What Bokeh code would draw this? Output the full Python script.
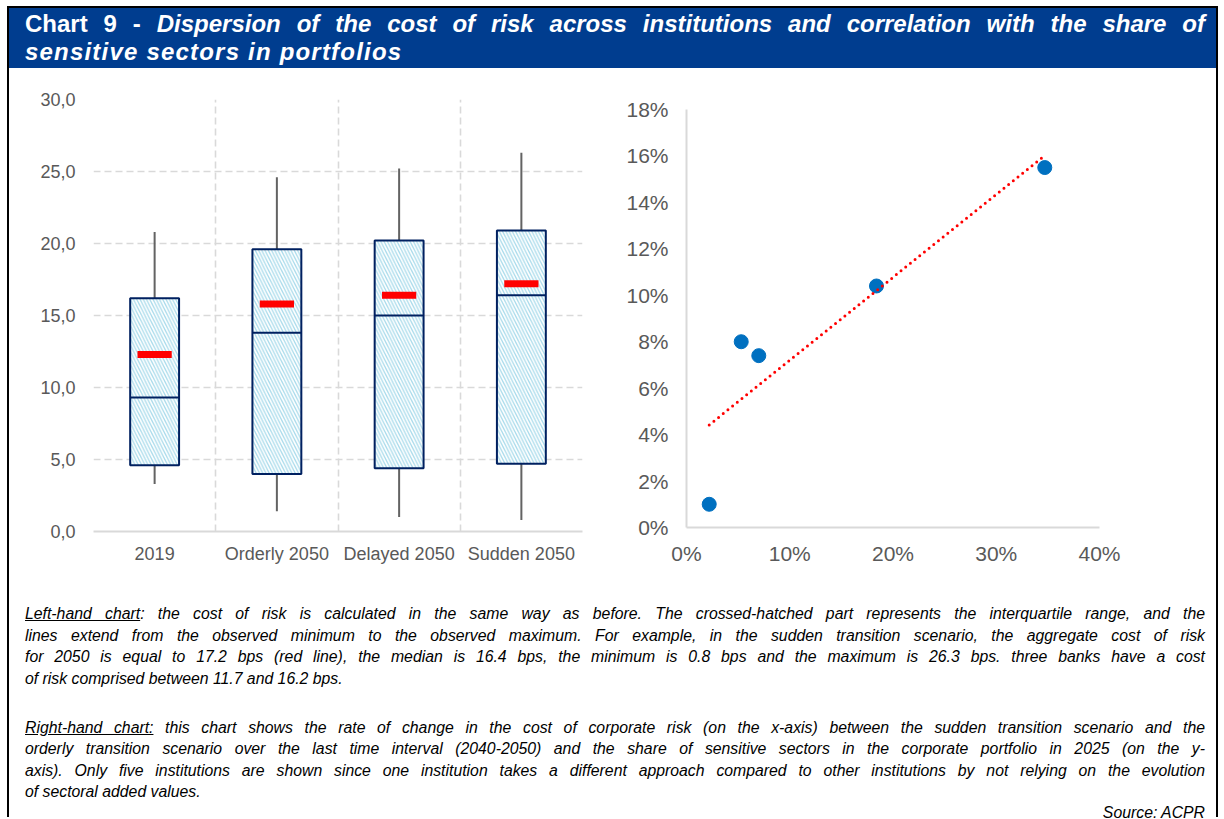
import numpy as np
from bokeh.plotting import figure
from bokeh.models import Range1d, FixedTicker, NumeralTickFormatter, Div
from bokeh.layouts import column, row
from bokeh.embed import file_html
from bokeh.resources import INLINE

# ---------------- data ----------------
categories = ["2019", "Orderly 2050", "Delayed 2050", "Sudden 2050"]
cor_min = [3.3, 1.4, 1.0, 0.8]
cor_q1 = [4.6, 4.0, 4.4, 4.7]
cor_median = [9.3, 13.8, 15.0, 16.4]
cor_q3 = [16.2, 19.6, 20.2, 20.9]
cor_max = [20.8, 24.6, 25.2, 26.3]
cor_aggregate = [12.3, 15.8, 16.4, 17.2]
left_y_ticks = [0, 5, 10, 15, 20, 25, 30]
left_y_tick_labels = ["0,0", "5,0", "10,0", "15,0", "20,0", "25,0", "30,0"]

cor_change = [0.022, 0.053, 0.070, 0.184, 0.347]
sensitive_share = [0.010, 0.080, 0.074, 0.104, 0.155]
right_x_ticks = [0.0, 0.1, 0.2, 0.3, 0.4]
right_y_ticks = [0.0, 0.02, 0.04, 0.06, 0.08, 0.10, 0.12, 0.14, 0.16, 0.18]
right_y_max = 0.18

title_line1 = "Dispersion of the cost of risk across institutions and correlation with the share of"
title_line2 = "sensitive sectors in portfolios"

FONT = "Liberation Sans"
GREY_TXT = "#595959"
GRID = "#d9d9d9"

# ---------------- left chart: box plots ----------------
n = len(categories)
xs = [i + 0.5 for i in range(n)]
box_w = 0.4
xl = [x - box_w / 2 for x in xs]
xr = [x + box_w / 2 for x in xs]

p1 = figure(frame_width=489, frame_height=432, x_range=Range1d(0, n), y_range=Range1d(0, 30),
            output_backend="svg", toolbar_location=None,
            min_border_left=84, min_border_right=18, min_border_top=31, min_border_bottom=52)
p1.outline_line_color = None
p1.background_fill_color = "white"
p1.border_fill_color = "white"

p1.xgrid.ticker = FixedTicker(ticks=list(range(n + 1)))
p1.ygrid.ticker = FixedTicker(ticks=left_y_ticks)
for g in (p1.xgrid, p1.ygrid):
    g.grid_line_color = GRID
    g.grid_line_width = 1.6
    g.grid_line_dash = "7 4"

p1.xaxis.ticker = FixedTicker(ticks=xs)
p1.xaxis.major_label_overrides = {x: c for x, c in zip(xs, categories)}
p1.yaxis.ticker = FixedTicker(ticks=left_y_ticks)
p1.yaxis.major_label_overrides = {t: l for t, l in zip(left_y_ticks, left_y_tick_labels)}
for ax in (p1.xaxis[0], p1.yaxis[0]):
    ax.major_tick_line_color = None
    ax.minor_tick_line_color = None
    ax.major_label_text_font = FONT
    ax.major_label_text_font_size = "18px"
    ax.major_label_text_color = GREY_TXT
p1.yaxis.axis_line_color = None
p1.yaxis.major_label_standoff = 12
p1.xaxis.axis_line_color = GRID
p1.xaxis.axis_line_width = 2
p1.xaxis.major_label_standoff = 6

p1.segment(xs, cor_min, xs, cor_q1, line_color="#636363", line_width=2)
p1.segment(xs, cor_q3, xs, cor_max, line_color="#636363", line_width=2)
p1.vbar(x=xs, width=box_w, bottom=cor_q1, top=cor_q3, fill_color="white",
        line_color="#002060", line_width=2,
        hatch_pattern="left_diagonal_line", hatch_color="#a9dbeb",
        hatch_scale=6.5, hatch_weight=1.3)
p1.segment(xl, cor_median, xr, cor_median, line_color="#002060", line_width=2)
p1.rect(x=xs, y=cor_aggregate, width=0.28, height=7, height_units="screen",
        fill_color="#ff0000", line_color=None)

# ---------------- right chart: scatter ----------------
# frame top is aligned with the left chart; the visible axis stops at 18%
frame_h2 = 428
axis_h2 = 418
p2 = figure(frame_width=413, frame_height=frame_h2, x_range=Range1d(0, 0.4),
            y_range=Range1d(0, right_y_max * frame_h2 / axis_h2),
            output_backend="svg", toolbar_location=None,
            min_border_left=86, min_border_right=117, min_border_top=31, min_border_bottom=56)
p2.outline_line_color = None
p2.xgrid.visible = False
p2.ygrid.visible = False
p2.xaxis.ticker = FixedTicker(ticks=right_x_ticks)
p2.yaxis.ticker = FixedTicker(ticks=right_y_ticks)
p2.yaxis.bounds = (0, right_y_max)
for ax in (p2.xaxis[0], p2.yaxis[0]):
    ax.formatter = NumeralTickFormatter(format="0%")
    ax.major_tick_line_color = None
    ax.minor_tick_line_color = None
    ax.axis_line_color = GRID
    ax.axis_line_width = 2
    ax.major_label_text_font = FONT
    ax.major_label_text_font_size = "21px"
    ax.major_label_text_color = GREY_TXT
p2.yaxis.major_label_standoff = 12
p2.xaxis.major_label_standoff = 8

p2.scatter(cor_change, sensitive_share, size=14, fill_color="#0070c0", line_color="#0070c0")
slope, intercept = np.polyfit(cor_change, sensitive_share, 1)
tx = [min(cor_change), max(cor_change)]
ty = [slope * v + intercept for v in tx]
p2.line(tx, ty, line_color="#ff0000", line_width=3, line_dash="0 6", line_cap="round")

# ---------------- header & notes ----------------
W = 1207
header_html = (
    f'<div style="width:{W}px;height:60px;background:#003d8f;color:white;'
    'font-family:\'Liberation Sans\',Arial,sans-serif;font-weight:bold;font-size:24px;'
    'line-height:28px;box-sizing:border-box;padding:2px 11px 0 16px;">'
    '<div style="text-align:justify;text-align-last:justify;white-space:nowrap;">Chart 9 - <i>' + title_line1 + '</i></div>'
    '<div style="letter-spacing:1.2px;"><i>' + title_line2 + '</i></div>'
    '</div>'
)
header = Div(text=header_html, width=W, height=60, margin=0)

p1_lines = [
    "<u>Left-hand chart</u>: the cost of risk is calculated in the same way as before. The crossed-hatched part represents the interquartile range, and the",
    "lines extend from the observed minimum to the observed maximum. For example, in the sudden transition scenario, the aggregate cost of risk",
    "for 2050 is equal to 17.2 bps (red line), the median is 16.4 bps, the minimum is 0.8 bps and the maximum is 26.3 bps. three banks have a cost",
]
p1_last = "of risk comprised between 11.7 and 16.2 bps."
p2_lines = [
    "<u>Right-hand chart:</u> this chart shows the rate of change in the cost of corporate risk (on the x-axis) between the sudden transition scenario and the",
    "orderly transition scenario over the last time interval (2040-2050) and the share of sensitive sectors in the corporate portfolio in 2025 (on the y-",
    "axis). Only five institutions are shown since one institution takes a different approach compared to other institutions by not relying on the evolution",
]
p2_last = "of sectoral added values."
source = "Source: ACPR"

JL = '<div style="text-align:justify;text-align-last:justify;white-space:nowrap;">'
notes_html = (
    f'<div style="width:{W}px;height:234px;background:white;color:black;'
    'font-family:\'Liberation Sans\',Arial,sans-serif;font-style:italic;font-size:15.8px;'
    'line-height:21.5px;box-sizing:border-box;padding:20px 11px 0 16px;">'
    + "".join(JL + l + "</div>" for l in p1_lines)
    + "<div>" + p1_last + "</div>"
    + '<div style="height:27.5px"></div>'
    + "".join(JL + l + "</div>" for l in p2_lines)
    + "<div>" + p2_last + "</div>"
    + '<div style="text-align:right;line-height:19px;">' + source + "</div>"
    + "</div>"
)
notes = Div(text=notes_html, width=W, height=234, margin=0)

layout = column(header, row(p1, p2), notes,
                styles={"border-left": "2px solid black", "border-right": "2px solid black",
                        "border-top": "2px solid black", "margin-left": "7px", "margin-top": "6px"})

open("out.html", "w").write(file_html(layout, INLINE))
